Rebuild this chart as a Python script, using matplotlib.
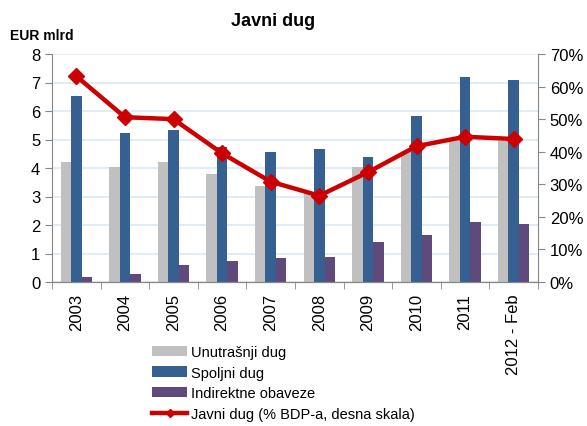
import numpy as np
import matplotlib.pyplot as plt
from matplotlib.lines import Line2D
from matplotlib.patches import Patch

plt.rcParams['font.family'] = ['Liberation Sans', 'DejaVu Sans']

years = ["2003", "2004", "2005", "2006", "2007", "2008", "2009", "2010", "2011", "2012 - Feb"]
unutrasnji = [4.22, 4.02, 4.22, 3.79, 3.36, 3.15, 4.02, 4.55, 5.02, 4.96]
spoljni = [6.54, 5.23, 5.33, 4.73, 4.55, 4.67, 4.40, 5.84, 7.19, 7.09]
indirektne = [0.17, 0.28, 0.61, 0.73, 0.84, 0.89, 1.39, 1.66, 2.09, 2.05]
javni_pct = [63.2, 50.6, 50.0, 39.5, 30.8, 26.5, 33.7, 41.7, 44.6, 43.9]

c_grey = "#C0C0C0"
c_blue = "#376092"
c_purple = "#604A7B"
c_red = "#CC0000"
c_axis = "#868686"

fig = plt.figure(figsize=(5.87, 4.27), dpi=100)
ax = fig.add_axes([52/587, 1-283/427, (538-52)/587, (283-55)/427])
ax2 = ax.twinx()

x = np.arange(len(years))
w = 0.215
ax.bar(x - w, unutrasnji, w, color=c_grey, zorder=2)
ax.bar(x, spoljni, w, color=c_blue, zorder=2)
ax.bar(x + w, indirektne, w, color=c_purple, zorder=2)

ax.set_xlim(-0.5, len(years) - 0.5)
ax.set_ylim(0, 8)
ax.set_yticks(range(0, 9))
ax.yaxis.grid(True, color="#DCEAF5", linewidth=1.2, zorder=0)
ax.set_axisbelow(True)

ax.set_xticks(x)
ax.set_xticklabels(years, rotation=90, fontsize=12)
ax.set_xticks(np.arange(-0.5, len(years)), minor=True)
ax.tick_params(axis='x', which='major', length=0, pad=8)
ax.tick_params(axis='x', which='minor', length=5, color=c_axis, direction='out')
ax.tick_params(axis='y', labelsize=12, length=5, color=c_axis, direction='out')

ax2.plot(x, javni_pct, color=c_red, linewidth=3.2, marker='D', markersize=8, zorder=5)
ax2.set_ylim(0, 70)
ax2.set_yticks(range(0, 71, 10))
ax2.set_yticklabels([f"{v}%" for v in range(0, 71, 10)])
ax2.tick_params(axis='y', labelsize=12, length=5, color=c_axis, direction='out')

for a in (ax, ax2):
    a.spines['top'].set_visible(False)
    a.spines['left'].set_color(c_axis)
    a.spines['right'].set_color(c_axis)
    a.spines['bottom'].set_color(c_axis)
ax.spines['right'].set_visible(False)
ax2.spines['left'].set_visible(False)

fig.text(273/587, 1-21/427, "Javni dug", ha='center', va='center', fontsize=13, fontweight='bold')
fig.text(10/587, 1-36/427, "EUR mlrd", ha='left', va='center', fontsize=10, fontweight='bold')

handles = [
    Patch(facecolor=c_grey),
    Patch(facecolor=c_blue),
    Patch(facecolor=c_purple),
    Line2D([], [], color=c_red, linewidth=3.2, marker='D', markersize=4),
]
labels = ["Unutrašnji dug", "Spoljni dug", "Indirektne obaveze", "Javni dug (% BDP-a, desna skala)"]
fig.legend(handles, labels, loc='upper left', bbox_to_anchor=(152/587, 1-346/427),
           frameon=False, fontsize=10.5, handlelength=2.4, handleheight=0.7,
           handletextpad=0.3, labelspacing=0.45, borderpad=0, borderaxespad=0)

fig.savefig("out.png", dpi=100)
